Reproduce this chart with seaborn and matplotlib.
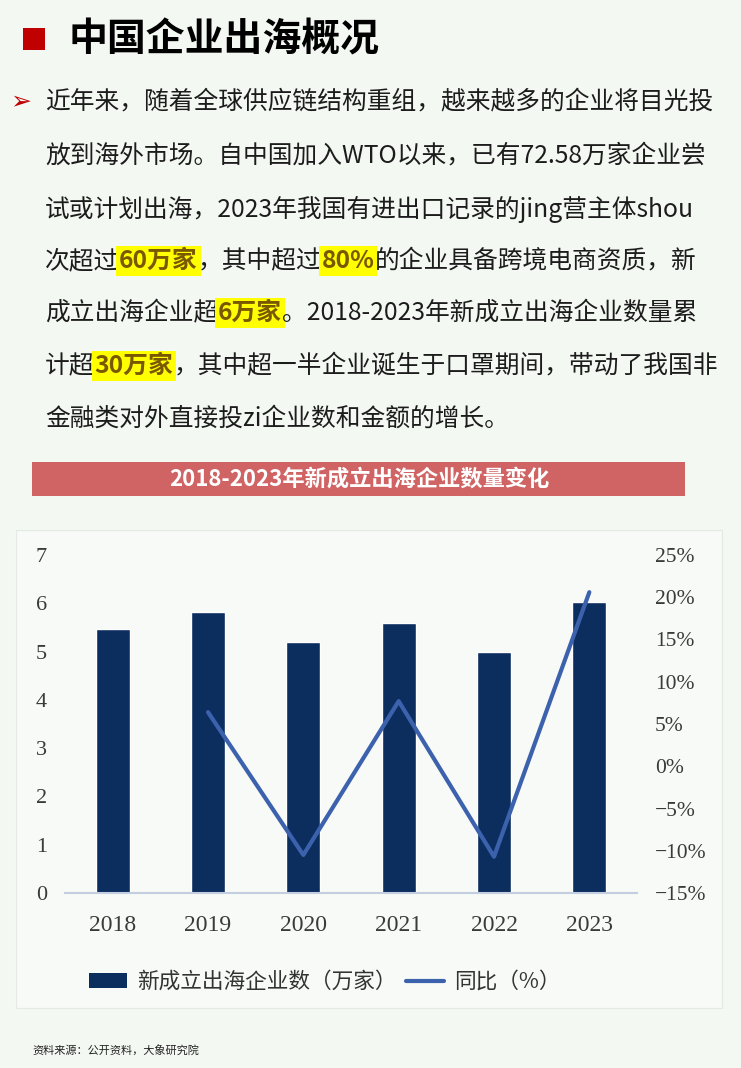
import numpy as np
import pandas as pd
import seaborn as sns
import matplotlib.pyplot as plt
from matplotlib.patches import Rectangle, Patch
from matplotlib.lines import Line2D

# chart data
years = ['2018', '2019', '2020', '2021', '2022', '2023']
new_firms = [5.46, 5.81, 5.20, 5.60, 5.00, 6.03]        # 万家
yoy_pct = [np.nan, 6.4, -10.5, 7.7, -10.7, 20.6]        # %
left_ticks = [0, 1, 2, 3, 4, 5, 6, 7]
right_ticks = [-15, -10, -5, 0, 5, 10, 15, 20, 25]

page_title = '中国企业出海概况'
chart_title = '2018-2023年新成立出海企业数量变化'
bar_label = '新成立出海企业数（万家）'
line_label = '同比（%）'
source_note = '资料来源：公开资料，大象研究院'

# paragraph lines: (text, highlighted)
paragraph = [
    [('近年来，随着全球供应链结构重组，越来越多的企业将目光投', False)],
    [('放到海外市场。自中国加入WTO以来，已有72.58万家企业尝', False)],
    [('试或计划出海，2023年我国有进出口记录的jing营主体shou', False)],
    [('次超过', False), ('60万家', True), ('，其中超过', False), ('80%', True),
     ('的企业具备跨境电商资质，新', False)],
    [('成立出海企业超', False), ('6万家', True), ('。2018-2023年新成立出海企业数量累', False)],
    [('计超', False), ('30万家', True), ('，其中超一半企业诞生于口罩期间，带动了我国非', False)],
    [('金融类对外直接投zi企业数和金额的增长。', False)],
]
line_y = [101, 156, 209, 261, 313, 366, 419]

bg = '#f3f8f2'
navy = '#0b2e5f'
blue = '#3d62ad'
red = '#c00000'

sns.set_theme(style='white')
plt.rcParams['font.family'] = ['Noto Sans CJK SC', 'DejaVu Sans']

W, H = 741, 1068
fig = plt.figure(figsize=(W / 100, H / 100), dpi=100, facecolor=bg)


def fx(px):
    return px / W


def fy(py):
    return 1 - py / H


def rect(x0, y0, x1, y1, **kw):
    fig.patches.append(Rectangle((fx(x0), fy(y1)), fx(x1) - fx(x0), fy(y0) - fy(y1),
                                 transform=fig.transFigure, **kw))


# page title
rect(23, 28, 45, 50, facecolor=red, edgecolor='none')
fig.text(fx(69), fy(40), page_title, fontsize=28, fontweight='heavy', color='black',
         va='center', ha='left')

# paragraph
fig.text(fx(10), fy(101), '➢', fontsize=18, color=red, va='center', ha='left',
         family=['DejaVu Sans'])
renderer = fig.canvas.get_renderer()
for y, segs in zip(line_y, paragraph):
    x = 45
    for txt, hl in segs:
        kw = dict(fontsize=17.8, va='center', ha='left')
        if hl:
            kw.update(color='#7a5800', fontweight='bold',
                      bbox=dict(boxstyle='square,pad=0.12', facecolor='#ffff00', edgecolor='none'))
        else:
            kw.update(color='#1c1c1c')
        t = fig.text(fx(x), fy(y), txt, **kw)
        x = t.get_window_extent(renderer).x1

# chart title bar
rect(32, 462, 685, 496, facecolor='#d06464', edgecolor='none')
fig.text(fx(359), fy(479), chart_title, fontsize=16, fontweight='bold', color='white',
         va='center', ha='center')

# chart panel
rect(16, 530, 722, 1008, facecolor='#f7faf6', edgecolor='#e4e9e4', lw=0.8, zorder=-1)

# chart
df = pd.DataFrame({'year': years, 'firms': new_firms, 'yoy': yoy_pct})
ax = fig.add_axes([fx(65), fy(893), fx(637) - fx(65), fy(555) - fy(893)])
ax.set_facecolor('none')
sns.barplot(data=df, x='year', y='firms', color=navy, saturation=1, width=0.36, ax=ax)
ax.set_xlim(-0.5, 5.5)
ax.set_ylim(0, 7)
ax.set_yticks(left_ticks)
ax.set_xlabel('')
ax.set_ylabel('')
for s in ['top', 'left', 'right']:
    ax.spines[s].set_visible(False)
ax.spines['bottom'].set_color('#c5cde0')
ax.spines['bottom'].set_linewidth(1.5)
ax.tick_params(axis='y', length=0, pad=13, labelsize=16, labelcolor='#3a3a3a')
ax.tick_params(axis='x', length=0, pad=16, labelsize=17, labelcolor='#3a3a3a')

ax2 = ax.twinx()
sns.lineplot(x=np.arange(len(years)), y=yoy_pct, ax=ax2, color=blue, lw=3)
ax2.set_ylim(-15, 25)
ax2.set_yticks(right_ticks)
ax2.set_yticklabels([f'{v}%'.replace('-', '−') for v in right_ticks])
for s in ax2.spines.values():
    s.set_visible(False)
ax2.tick_params(axis='y', length=0, pad=13, labelsize=15.5, labelcolor='#3a3a3a')
ax2.set_ylabel('')

for lbl in ax.get_xticklabels() + ax.get_yticklabels() + ax2.get_yticklabels():
    lbl.set_fontfamily('Liberation Serif')

# legend
handles = [Patch(facecolor=navy, edgecolor='none', label=bar_label),
           Line2D([0], [0], color=blue, lw=3, label=line_label)]
fig.legend(handles=handles, loc='center', bbox_to_anchor=(fx(325), fy(982)), ncol=2,
           frameon=False, fontsize=15.6, handlelength=1.75, handleheight=0.65,
           columnspacing=0.45, handletextpad=0.45, labelcolor='#333333')

# source
fig.text(fx(32), fy(1050), source_note, fontsize=8, color='#222222', va='center', ha='left')

fig.savefig('out.png', dpi=100, facecolor=bg)
